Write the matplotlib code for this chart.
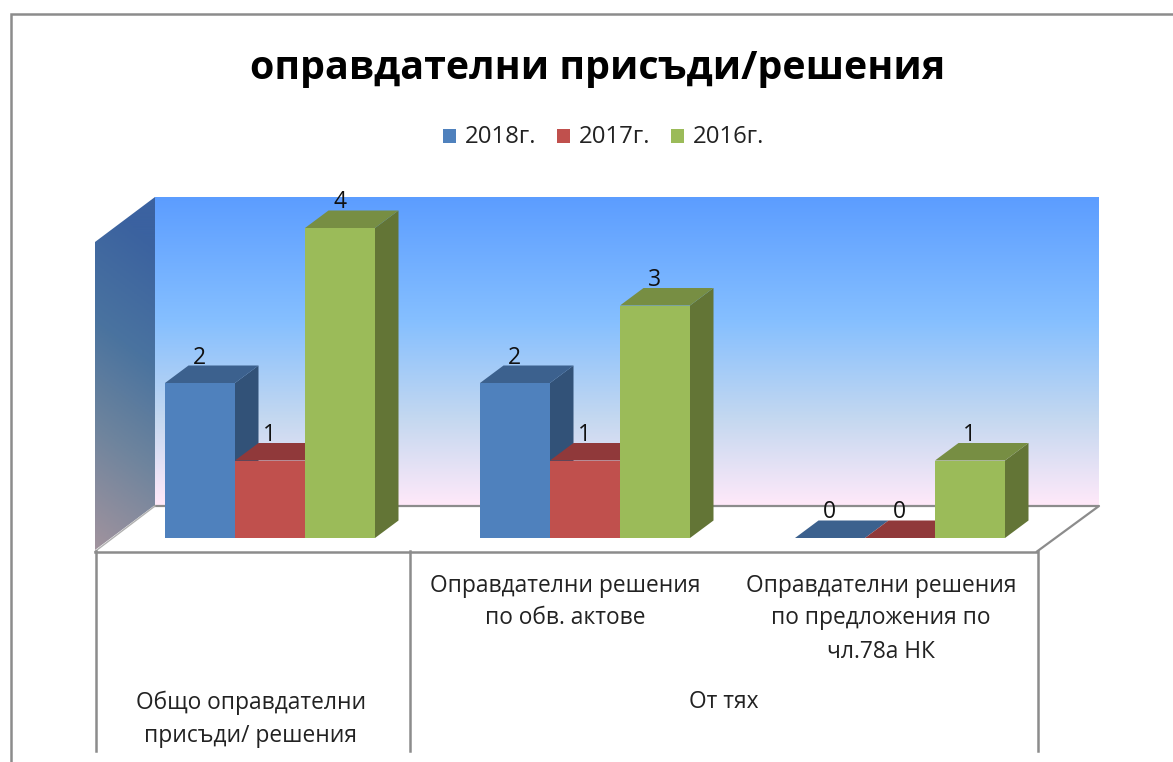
import matplotlib
matplotlib.use("Agg")
import matplotlib.pyplot as plt
from matplotlib.colors import LinearSegmentedColormap
from matplotlib.patches import Polygon, Rectangle
import numpy as np

plt.rcParams['font.family'] = ['Open Sans', 'DejaVu Sans']

title = "оправдателни присъди/решения"
series_names = ["2018г.", "2017г.", "2016г."]
v2018 = [2, 2, 0]
v2017 = [1, 1, 0]
v2016 = [4, 3, 1]
labels_2018 = ["2", "2", "0"]
labels_2017 = ["1", "1", "0"]
labels_2016 = ["4", "3", "1"]
cat_lower = ["", "Оправдателни решения\nпо обв. актове", "Оправдателни решения\nпо предложения по\nчл.78а НК"]
cat_upper = ["Общо оправдателни\nприсъди/ решения", "От тях"]

front = ["#4F81BD", "#C0504D", "#9BBB59"]
top = ["#3C618E", "#90393A", "#778E43"]
side = ["#325278", "#7C3231", "#637536"]

W, H = 1173, 762
fig = plt.figure(figsize=(W / 100, H / 100), dpi=100, facecolor="white")
ax = fig.add_axes([0, 0, 1, 1])
PX_X, PX_Y = 315.0, 77.5
X0, Y0 = 270.0, 538.0
ax.axis("off")


def dx(p):
    return (p - X0) / PX_X


def dy(p):
    return (Y0 - p) / PX_Y


def P(points):
    return [(dx(a), dy(b)) for a, b in points]


LINE = "#8C8C8C"
# outer chart frame
ax.plot([dx(10.5), dx(10.5), dx(W)], [dy(H), dy(13.5), dy(13.5)], color=LINE, lw=1.8, zorder=1, solid_joinstyle="miter")

# back wall
back = LinearSegmentedColormap.from_list("b", [(0, "#5C9DFF"), (0.4, "#85BFFF"), (0.72, "#C4D8F0"), (1, "#FFE9F9")])
ax.imshow(np.linspace(0, 1, 256)[:, None], cmap=back, aspect="auto",
          extent=(dx(155), dx(1099), dy(505), dy(197)), zorder=1)

# left wall
lw_cmap = LinearSegmentedColormap.from_list("l", [(0, "#3B62A0"), (0.35, "#4A739F"), (0.65, "#6E849D"), (1, "#A1939D")])
pts = P([(95, 242), (155, 197), (155, 505), (95, 550)])
yy, xx = np.mgrid[0:1:200j, 0:1:60j]
left = ax.imshow(yy - 0.127 * xx, cmap=lw_cmap, aspect="auto", vmin=0.0, vmax=1.0,
                 extent=(dx(95), dx(155), dy(550), dy(197)), zorder=1.1)
clip = Polygon(pts, closed=True, transform=ax.transData, fc="none", ec="none")
ax.add_patch(clip)
left.set_clip_path(clip)

ax.set_xlim((0 - X0) / PX_X, (W - X0) / PX_X)
ax.set_ylim((Y0 - H) / PX_Y, Y0 / PX_Y)

# floor and category table
ax.add_patch(Polygon(P([(95, 551), (155, 506), (1099, 506), (1037, 551)]), closed=True, fc="white", ec="none", zorder=1.2))
ax.plot(*zip(*P([(155, 506), (1099, 506), (1037, 551.5)])), color=LINE, lw=1.6, zorder=1.3)
ax.plot(*zip(*P([(95, 551.5), (155, 506)])), color="#B0B0B0", lw=1.0, zorder=1.3)
ax.plot(*zip(*P([(95, 551.5), (1037, 551.5)])), color=LINE, lw=1.8, zorder=1.3)
for xp in (95.5, 409.5, 1037.5):
    ax.plot([dx(xp), dx(xp)], [dy(551), dy(751)], color=LINE, lw=1.8, zorder=1.3)

# bars
BAR_W = 70 / PX_X
DEPTH_X, DEPTH_Y = 23.5 / PX_X, 17.5 / PX_Y
values = [v2018, v2017, v2016]
texts = [labels_2018, labels_2017, labels_2016]
for s in range(3):
    for c in range(3):
        left_edge = c - 105 / PX_X + s * BAR_W
        v = values[s][c]
        r = left_edge + BAR_W
        z = 3 + s
        ax.add_patch(Polygon([(r, 0), (r + DEPTH_X, DEPTH_Y), (r + DEPTH_X, v + DEPTH_Y), (r, v)],
                             closed=True, fc=side[s], ec="none", zorder=z))
        ax.add_patch(Polygon([(left_edge, v), (r, v), (r + DEPTH_X, v + DEPTH_Y), (left_edge + DEPTH_X, v + DEPTH_Y)],
                             closed=True, fc=top[s], ec="none", zorder=z))
        ax.bar(left_edge, v, width=BAR_W, align="edge", color=front[s], linewidth=0, zorder=z)
for s in range(3):
    for c in range(3):
        left_edge = c - 105 / PX_X + s * BAR_W
        ax.text(left_edge + BAR_W / 2 - 0.5 / PX_X, values[s][c] + DEPTH_Y + 8 / PX_Y, texts[s][c],
                ha="center", va="center", fontsize=16.5, color="#111111", zorder=10)

# category labels
lower_x = [252, 565.5, 881]
for xp, t in zip(lower_x, cat_lower):
    ax.text(dx(xp), dy(573.5), t, ha="center", va="top", fontsize=16.4, color="#222222", linespacing=1.5, zorder=10)
ax.text(dx(251), dy(719), cat_upper[0], ha="center", va="center", fontsize=16.4, color="#222222", linespacing=1.5, zorder=10)
ax.text(dx(724), dy(702), cat_upper[1], ha="center", va="center", fontsize=16.4, color="#222222", zorder=10)

# title
ax.text(dx(598), dy(68), title, ha="center", va="center", fontsize=28.4, fontweight="bold", color="black", zorder=10)

# legend
for xp, xt, color, name in zip((443, 557, 671), (465, 579, 693), front, series_names):
    ax.add_patch(Rectangle((dx(xp), dy(142.5)), 13 / PX_X, 13 / PX_Y, fc=color, ec="none", zorder=10))
    ax.text(dx(xt), dy(137), name, ha="left", va="center", fontsize=17.3, color="#222222", zorder=10)

fig.savefig("out.png", dpi=100, facecolor="white")
